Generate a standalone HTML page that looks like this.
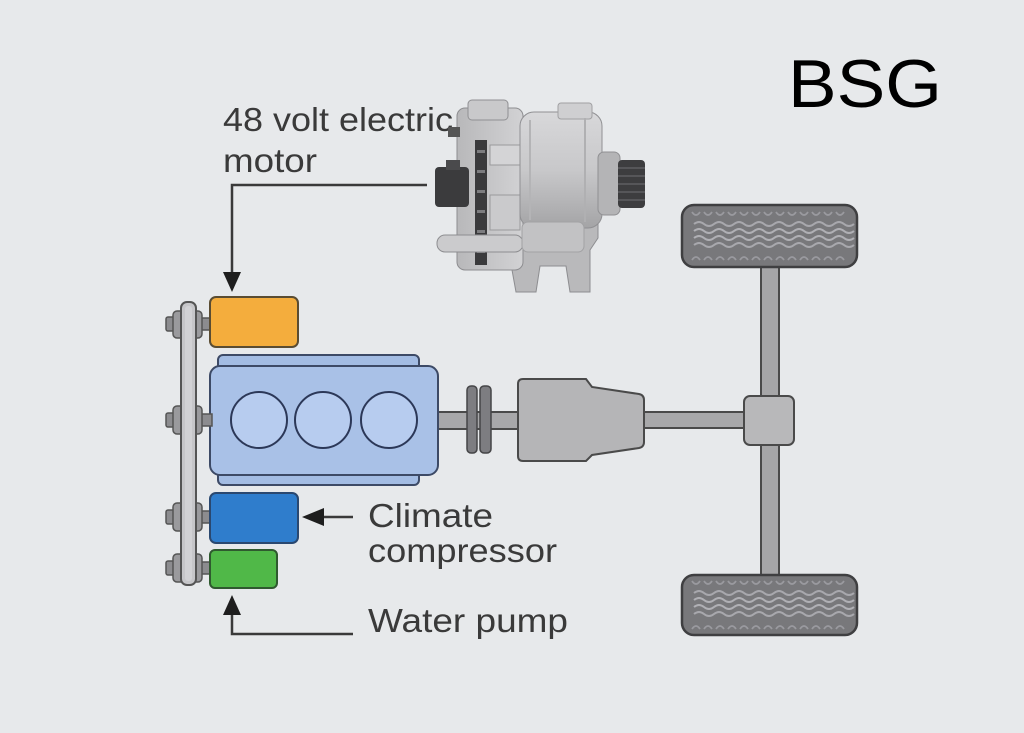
<!DOCTYPE html>
<html><head><meta charset="utf-8"><style>
html,body{margin:0;padding:0;background:#e7e9eb;}
svg{display:block;}
</style></head><body>
<svg width="1024" height="733" viewBox="0 0 1024 733" xmlns="http://www.w3.org/2000/svg">
<defs>
<linearGradient id="drum" x1="0" y1="0" x2="0" y2="1">
<stop offset="0" stop-color="#d8d8da"/><stop offset="0.5" stop-color="#c8c8ca"/><stop offset="1" stop-color="#a4a4a6"/>
</linearGradient>
<linearGradient id="rear" x1="0" y1="0" x2="1" y2="0">
<stop offset="0" stop-color="#b8b8ba"/><stop offset="1" stop-color="#d2d2d4"/>
</linearGradient>
<g id="tread">
<path d="M694,224 q5,-4 10,0 t10,0 t10,0 t10,0 t10,0 t10,0 t10,0 t10,0 t10,0 t10,0 t10,0 t10,0 t10,0 t10,0 t10,0 t10,0" fill="none" stroke="#a8a8ad" stroke-width="2"/>
<path d="M694,231 q5,-4 10,0 t10,0 t10,0 t10,0 t10,0 t10,0 t10,0 t10,0 t10,0 t10,0 t10,0 t10,0 t10,0 t10,0 t10,0 t10,0" fill="none" stroke="#b0b0b5" stroke-width="2"/>
<path d="M694,238 q5,-4 10,0 t10,0 t10,0 t10,0 t10,0 t10,0 t10,0 t10,0 t10,0 t10,0 t10,0 t10,0 t10,0 t10,0 t10,0 t10,0" fill="none" stroke="#b0b0b5" stroke-width="2"/>
<path d="M694,245 q5,-4 10,0 t10,0 t10,0 t10,0 t10,0 t10,0 t10,0 t10,0 t10,0 t10,0 t10,0 t10,0 t10,0 t10,0 t10,0 t10,0" fill="none" stroke="#a8a8ad" stroke-width="2"/>
<path d="M692,212 q4,6 8,0 m4,0 q4,6 8,0 m4,0 q4,6 8,0 m4,0 q4,6 8,0 m4,0 q4,6 8,0 m4,0 q4,6 8,0 m4,0 q4,6 8,0 m4,0 q4,6 8,0 m4,0 q4,6 8,0 m4,0 q4,6 8,0 m4,0 q4,6 8,0 m4,0 q4,6 8,0 m4,0 q4,6 8,0" fill="none" stroke="#9a9a9f" stroke-width="1.8"/>
<path d="M692,260 q4,-6 8,0 m4,0 q4,-6 8,0 m4,0 q4,-6 8,0 m4,0 q4,-6 8,0 m4,0 q4,-6 8,0 m4,0 q4,-6 8,0 m4,0 q4,-6 8,0 m4,0 q4,-6 8,0 m4,0 q4,-6 8,0 m4,0 q4,-6 8,0 m4,0 q4,-6 8,0 m4,0 q4,-6 8,0 m4,0 q4,-6 8,0" fill="none" stroke="#9a9a9f" stroke-width="1.8"/>
</g>
</defs>

<!-- BSG title -->
<text x="788" y="107" font-family="Liberation Sans, Arial, sans-serif" font-size="68" fill="#000" textLength="154" lengthAdjust="spacingAndGlyphs">BSG</text>

<!-- Labels -->
<g font-family="Liberation Sans, Arial, sans-serif" font-size="33" fill="#3a3a3a">
<text x="223" y="131" textLength="230" lengthAdjust="spacingAndGlyphs">48 volt electric</text>
<text x="223" y="172" textLength="94" lengthAdjust="spacingAndGlyphs">motor</text>
<text x="368" y="527" textLength="125" lengthAdjust="spacingAndGlyphs">Climate</text>
<text x="368" y="562" textLength="189" lengthAdjust="spacingAndGlyphs">compressor</text>
<text x="368" y="632" textLength="200" lengthAdjust="spacingAndGlyphs">Water pump</text>
</g>

<!-- Leader arrows -->
<g stroke="#3a3a3a" stroke-width="2.5" fill="none">
<polyline points="427,185 232,185 232,275"/>
<line x1="322" y1="517" x2="353" y2="517"/>
<polyline points="353,634 232,634 232,613"/>
</g>
<g fill="#1e1e1e">
<polygon points="223,272 241,272 232,292"/>
<polygon points="302,517 324,508 324,526"/>
<polygon points="232,595 223,615 241,615"/>
</g>

<!-- Alternator (approximation) -->
<g>
<path d="M512,215 L598,215 L598,238 L590,250 L590,292 L570,292 L566,266 L540,266 L536,292 L516,292 L512,270 Z" fill="#b9b9bb" stroke="#8d8d90" stroke-width="1"/>
<rect x="457" y="108" width="66" height="162" rx="8" fill="url(#rear)" stroke="#8d8d90"/>
<rect x="468" y="100" width="40" height="20" rx="4" fill="#c9c9cb" stroke="#909093"/>
<rect x="475" y="140" width="12" height="125" fill="#3a3a3c"/>
<g fill="#7c7c7f"><rect x="477" y="150" width="8" height="3"/><rect x="477" y="170" width="8" height="3"/><rect x="477" y="190" width="8" height="3"/><rect x="477" y="210" width="8" height="3"/><rect x="477" y="230" width="8" height="3"/><rect x="477" y="250" width="8" height="3"/></g>
<rect x="490" y="145" width="30" height="20" fill="#d4d4d6" stroke="#9a9a9c"/>
<rect x="490" y="195" width="30" height="35" fill="#cacacc" stroke="#9a9a9c"/>
<rect x="520" y="112" width="82" height="116" rx="14" fill="url(#drum)" stroke="#909093"/>
<rect x="558" y="103" width="34" height="16" rx="3" fill="#cfcfd1" stroke="#a0a0a2"/>
<line x1="530" y1="120" x2="530" y2="220" stroke="#b4b4b6" stroke-width="2"/>
<line x1="585" y1="118" x2="585" y2="222" stroke="#b0b0b2" stroke-width="2"/>
<rect x="598" y="152" width="22" height="63" rx="6" fill="#b4b4b6" stroke="#909093"/>
<rect x="618" y="160" width="27" height="48" rx="4" fill="#3d3d3f"/>
<g stroke="#5f5f62" stroke-width="1.5"><line x1="618" y1="168" x2="645" y2="168"/><line x1="618" y1="176" x2="645" y2="176"/><line x1="618" y1="184" x2="645" y2="184"/><line x1="618" y1="192" x2="645" y2="192"/><line x1="618" y1="200" x2="645" y2="200"/></g>
<rect x="435" y="167" width="34" height="40" rx="4" fill="#3b3b3d"/>
<rect x="446" y="160" width="14" height="10" fill="#4a4a4c"/>
<rect x="437" y="235" width="86" height="17" rx="8" fill="#cbcbcd" stroke="#8e8e91"/>
<rect x="448" y="127" width="12" height="10" fill="#555"/>
<rect x="522" y="222" width="62" height="30" rx="6" fill="#c2c2c4" stroke="#a2a2a4"/>
</g>

<!-- Rear axle and wheels -->
<rect x="761" y="265" width="18" height="312" fill="#a6a6a8" stroke="#4a4a4a" stroke-width="2"/>
<rect x="682" y="205" width="175" height="62" rx="12" fill="#78787b" stroke="#3f3f41" stroke-width="2.5"/>
<use href="#tread"/>
<rect x="682" y="575" width="175" height="60" rx="12" fill="#78787b" stroke="#3f3f41" stroke-width="2.5"/>
<use href="#tread" transform="translate(0,369)"/>

<!-- Drive shafts -->
<rect x="437" y="412" width="82" height="17" fill="#a8a8aa" stroke="#4a4a4a" stroke-width="2"/>
<rect x="642" y="412" width="104" height="16" fill="#a8a8aa" stroke="#4a4a4a" stroke-width="2"/>

<!-- Clutch plates -->
<rect x="467" y="386" width="10" height="67" rx="4" fill="#7d7d81" stroke="#454547" stroke-width="1.5"/>
<rect x="480" y="386" width="11" height="67" rx="4" fill="#7d7d81" stroke="#454547" stroke-width="1.5"/>

<!-- Gearbox -->
<path d="M518,384 q0,-5 5,-5 L586,379 L592,387 L639,394 q5,1 5,6 L644,442 q0,5 -5,6 L592,455 L586,461 L523,461 q-5,0 -5,-5 Z" fill="#b5b5b7" stroke="#4a4a4a" stroke-width="2"/>

<!-- Differential -->
<rect x="744" y="396" width="50" height="49" rx="6" fill="#b8b8ba" stroke="#4a4a4a" stroke-width="2"/>

<!-- Engine -->
<rect x="218" y="355" width="201" height="16" rx="5" fill="#a3bce3" stroke="#3d4a66" stroke-width="2"/>
<rect x="218" y="468" width="201" height="17" rx="5" fill="#a3bce3" stroke="#3d4a66" stroke-width="2"/>
<rect x="210" y="366" width="228" height="109" rx="10" fill="#a9c1e7" stroke="#3d4a66" stroke-width="2"/>
<g fill="#b7ccef" stroke="#2c3858" stroke-width="2">
<circle cx="259" cy="420" r="28"/>
<circle cx="323" cy="420" r="28"/>
<circle cx="389" cy="420" r="28"/>
</g>

<!-- Belt hubs -->
<g fill="#8c8c8f" stroke="#555" stroke-width="1.5">
<rect x="200" y="318" width="12" height="12"/>
<rect x="200" y="414" width="12" height="12"/>
<rect x="200" y="511" width="12" height="12"/>
<rect x="200" y="562" width="12" height="12"/>
<rect x="166" y="317" width="9" height="14" rx="2"/>
<rect x="166" y="413" width="9" height="14" rx="2"/>
<rect x="166" y="510" width="9" height="14" rx="2"/>
<rect x="166" y="561" width="9" height="14" rx="2"/>
</g>
<g fill="#9a9a9d" stroke="#555" stroke-width="1.5">
<rect x="173" y="311" width="29" height="27" rx="4"/>
<rect x="173" y="406" width="29" height="28" rx="4"/>
<rect x="173" y="503" width="29" height="28" rx="4"/>
<rect x="173" y="554" width="29" height="28" rx="4"/>
</g>
<rect x="181" y="302" width="15" height="283" rx="6" fill="#c6c6c9" stroke="#555" stroke-width="2"/>
<rect x="185" y="306" width="7" height="275" rx="3" fill="#d2d2d5"/>

<!-- Accessories -->
<rect x="210" y="297" width="88" height="50" rx="6" fill="#f4ad3d" stroke="#5a4c32" stroke-width="2"/>
<rect x="210" y="493" width="88" height="50" rx="6" fill="#2f7dcc" stroke="#2a4870" stroke-width="2"/>
<rect x="210" y="550" width="67" height="38" rx="5" fill="#50b848" stroke="#2f5a2f" stroke-width="2"/>
</svg>
</body></html>
